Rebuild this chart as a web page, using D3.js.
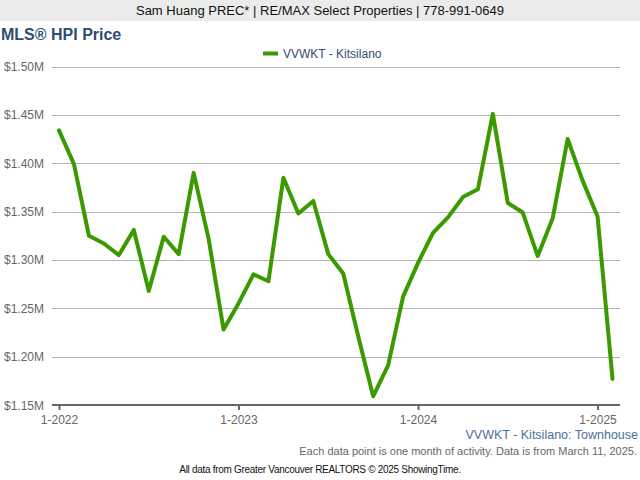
<!DOCTYPE html>
<html><head><meta charset="utf-8">
<script src="https://cdn.jsdelivr.net/npm/d3@7"></script>
<style>body{margin:0;background:#fff;}svg{display:block;font-family:"Liberation Sans",Arial,sans-serif;}</style>
</head><body>
<script>
const months = ["2022-01","2022-02","2022-03","2022-04","2022-05","2022-06","2022-07","2022-08","2022-09","2022-10","2022-11","2022-12",
"2023-01","2023-02","2023-03","2023-04","2023-05","2023-06","2023-07","2023-08","2023-09","2023-10","2023-11","2023-12",
"2024-01","2024-02","2024-03","2024-04","2024-05","2024-06","2024-07","2024-08","2024-09","2024-10","2024-11","2024-12",
"2025-01","2025-02"];
const prices = [1.434,1.399,1.325,1.317,1.305,1.331,1.268,1.324,1.306,1.390,1.322,1.228,
1.255,1.285,1.278,1.385,1.348,1.361,1.306,1.286,1.221,1.159,1.191,1.262,
1.297,1.328,1.344,1.365,1.373,1.451,1.359,1.349,1.304,1.343,1.425,1.382,
1.345,1.177];
const yTicks = [1.15,1.20,1.25,1.30,1.35,1.40,1.45,1.50];
const xTickLabels = ["1-2022","1-2023","1-2024","1-2025"];
const xTickMonths = ["2022-01","2023-01","2024-01","2025-01"];
const seriesName = "VVWKT - Kitsilano";

const W=640,H=480;
const svg=d3.select("body").append("svg").attr("width",W).attr("height",H);
const data=months.map((m,i)=>({m:m,i:i,v:prices[i]}));

// header
svg.append("rect").attr("x",0).attr("y",0).attr("width",W).attr("height",21).attr("fill","#ebebeb");
svg.append("text").attr("x",320).attr("y",15).attr("text-anchor","middle").attr("font-size",13).attr("fill","#111")
  .text("Sam Huang PREC* | RE/MAX Select Properties | 778-991-0649");
svg.append("text").attr("x",1).attr("y",40).attr("font-size",16).attr("font-weight","bold").attr("fill","#2c4d74").text("MLS® HPI Price");

// legend
svg.append("rect").attr("x",263).attr("y",51.5).attr("width",15).attr("height",4).attr("fill","#3a9a00");
svg.append("text").attr("x",283).attr("y",58).attr("font-size",12).attr("fill","#334d6e").text(seriesName);

const x=d3.scalePoint().domain(months.concat(["2025-03"])).range([59,59+38*14.96]);
const y=d3.scaleLinear().domain([1.15,1.50]).range([405,66.5]);

// grid
const grid=svg.append("g");
grid.selectAll("line").data(yTicks.slice(1)).join("line")
  .attr("x1",52).attr("x2",620).attr("y1",d=>Math.round(y(d))+0.5).attr("y2",d=>Math.round(y(d))+0.5)
  .attr("stroke","#b3b3b3").attr("stroke-width",1);

// y labels
svg.append("g").selectAll("text").data(yTicks).join("text")
  .attr("x",44).attr("y",d=>y(d)+4.5).attr("text-anchor","end").attr("font-size",12).attr("fill","#666")
  .text(d=>"$"+d.toFixed(2)+"M");

// x axis
const xAxis=d3.axisBottom(x).tickValues(xTickMonths).tickFormat((d,i)=>xTickLabels[i]).tickSize(5).tickSizeOuter(0);
const gx=svg.append("g").attr("transform","translate(0,405)").call(xAxis);
gx.select(".domain").remove();
gx.selectAll(".tick line").attr("stroke","#666").attr("stroke-width",2);
gx.selectAll(".tick text").attr("font-size",12).attr("fill","#666").attr("font-family","Liberation Sans, Arial, sans-serif").attr("dy","0.9em");
svg.append("line").attr("x1",52).attr("x2",620).attr("y1",405).attr("y2",405).attr("stroke","#666").attr("stroke-width",2);

// line
svg.append("path").datum(data).attr("fill","none").attr("stroke","#3a9a00").attr("stroke-width",4)
  .attr("stroke-linejoin","round").attr("stroke-linecap","round")
  .attr("d",d3.line().x(d=>x(d.m)).y(d=>y(d.v)));

// footer
svg.append("text").attr("x",638).attr("y",439).attr("text-anchor","end").attr("font-size",12.5).attr("fill","#4a70a0").text("VVWKT - Kitsilano: Townhouse");
svg.append("text").attr("x",637).attr("y",455).attr("text-anchor","end").attr("font-size",11).attr("fill","#666").text("Each data point is one month of activity. Data is from March 11, 2025.");
svg.append("text").attr("x",320).attr("y",473).attr("text-anchor","middle").attr("font-size",10).attr("fill","#111").attr("letter-spacing","-0.3").text("All data from Greater Vancouver REALTORS © 2025 ShowingTime.");
</script>
</body></html>
